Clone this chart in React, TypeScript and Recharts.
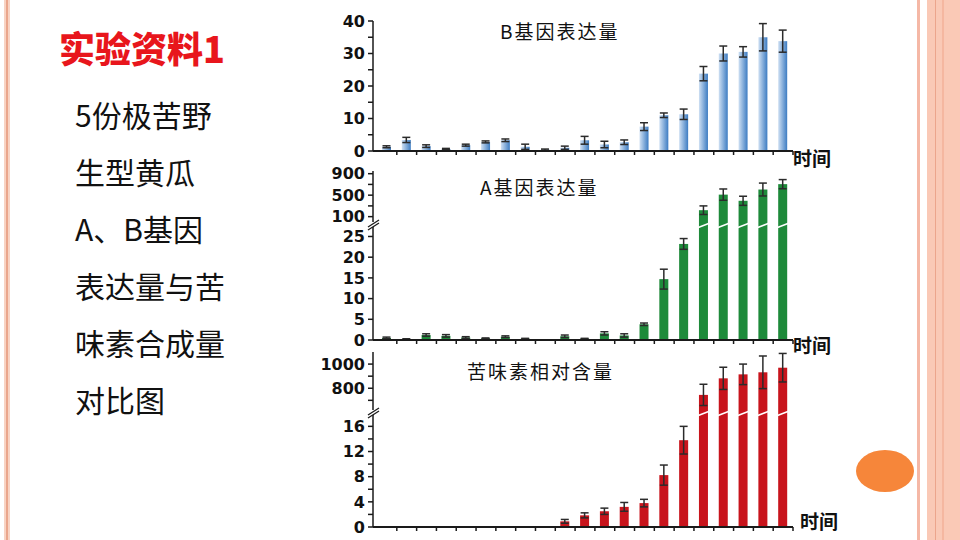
import { BarChart, Bar, XAxis, YAxis, ErrorBar } from "recharts";

// 21 sampling time points (no tick labels in the original)
const TIME_POINTS = ["1", "2", "3", "4", "5", "6", "7", "8", "9", "10", "11", "12", "13", "14", "15", "16", "17", "18", "19", "20", "21"];

// B gene expression
const B_LEVEL = [1.3, 3.4, 1.5, 0.6, 1.8, 2.8, 3.3, 1.3, 0.4, 1.0, 3.3, 2.0, 2.7, 7.5, 11, 11.3, 23.8, 30, 30.5, 35, 33.8];
const B_ERR = [0.3, 0.8, 0.4, 0.2, 0.3, 0.3, 0.4, 0.8, 0.2, 0.5, 1.2, 1.0, 0.7, 1.2, 0.7, 1.6, 2.2, 2.3, 1.6, 4.2, 3.4];

// A gene expression
const A_LEVEL = [0.5, 0.2, 1.2, 1.0, 0.6, 0.4, 0.8, 0.3, 0, 0.9, 0.3, 1.6, 1.1, 3.8, 14.7, 23.2, 220, 510, 395, 605, 705];
const A_ERR = [0.2, 0.1, 0.3, 0.3, 0.2, 0.1, 0.2, 0.1, 0, 0.3, 0.1, 0.4, 0.4, 0.3, 2.4, 1.3, 80, 105, 85, 120, 85];

// cucurbitacin relative content
const C_LEVEL = [0, 0, 0, 0, 0, 0, 0, 0, 0, 0.9, 1.85, 2.5, 3.2, 3.8, 8.25, 13.8, 745, 882, 915, 932, 970];
const C_ERR = [0, 0, 0, 0, 0, 0, 0, 0, 0, 0.3, 0.4, 0.5, 0.7, 0.6, 1.6, 2.2, 88, 92, 85, 135, 118];

const B_TICKS = [0, 5, 10, 15, 20, 25, 30, 35, 40];
const B_LABELS = [0, 10, 20, 30, 40];
const A_LOW_TICKS = [0, 5, 10, 15, 20, 25];
const A_HIGH_TICKS = [100, 300, 500, 700, 900];
const A_HIGH_LABELS = [100, 500, 900];
const C_LOW_TICKS = [0, 2, 4, 6, 8, 10, 12, 14, 16];
const C_LOW_LABELS = [0, 4, 8, 12, 16];
const C_HIGH_TICKS = [700, 800, 900, 1000];
const C_HIGH_LABELS = [800, 1000];

const rows = TIME_POINTS.map((t, i) => ({
  t,
  b: B_LEVEL[i],
  bErr: B_ERR[i],
  a: A_LEVEL[i],
  aErr: A_ERR[i],
  c: C_LEVEL[i],
  cErr: C_ERR[i],
}));

const LEFT = 313;
const CHART_W = 490;
const AXIS_W = 60;
const M_RIGHT = 10;
const X_PAD = 4;
const PLOT_W = CHART_W - AXIS_W - M_RIGHT;
const STEP = (PLOT_W - X_PAD) / TIME_POINTS.length;
const INK = "#1a1a1a";
const CJK = "'Noto Sans CJK SC', sans-serif";

function GapTick({ x, y }: any) {
  return <line x1={x + STEP / 2} x2={x + STEP / 2} y1={y} y2={y + 4} stroke={INK} strokeWidth={1.5} />;
}

type SegProps = {
  plotTop: number;
  plotH: number;
  domain: [number, number];
  ticks: number[];
  labels?: number[];
  valueKey: "a" | "b" | "c";
  errKey: "aErr" | "bErr" | "cErr";
  fill: string;
  showX?: boolean;
  mode: "full" | "low" | "high";
  cut?: number; // values above this are drawn in the upper panel
};

function Segment({ plotTop, plotH, domain, ticks, labels, valueKey, errKey, fill, showX, mode, cut = 0 }: SegProps) {
  const mTop = 10;
  const mBottom = showX ? 4 : 10;
  const height = mTop + plotH + (showX ? 6 : 0) + mBottom;
  const lim = domain[1];
  const value =
    mode === "high" ? (r: any) => (r[valueKey] > cut ? r[valueKey] : null) : (r: any) => r[valueKey];
  const err =
    mode === "high"
      ? (r: any) => (r[valueKey] > cut ? r[errKey] : null)
      : (r: any) => (r[valueKey] > 0 && r[valueKey] <= lim ? r[errKey] : null);

  // bars cut by the axis break get a white slash at the top of the lower panel
  const shape = (p: any) => {
    const { x, y, width, height: h } = p;
    if (h == null || isNaN(h) || h <= 0) return <g />;
    return (
      <g>
        <rect x={x} y={y} width={width} height={h} fill={fill} />
        {mode === "low" && y < mTop && (
          <line x1={x - 2} y1={mTop + 6} x2={x + width + 2} y2={mTop + 1} stroke="#fff" strokeWidth={1.6} />
        )}
      </g>
    );
  };

  return (
    <div style={{ position: "absolute", left: LEFT, top: plotTop - mTop }}>
      <BarChart
        width={CHART_W}
        height={height}
        data={rows}
        margin={{ top: mTop, right: M_RIGHT, left: 0, bottom: mBottom }}
        barSize={9}
        style={{ overflow: "visible" }}
      >
        <defs>
          <linearGradient id="blueBar" x1="0" y1="0" x2="1" y2="0">
            <stop offset="0%" stopColor="#cfe0f3" />
            <stop offset="100%" stopColor="#3d7cc2" />
          </linearGradient>
        </defs>
        <XAxis
          dataKey="t"
          hide={!showX}
          height={6}
          padding={{ left: X_PAD, right: 0 }}
          axisLine={{ stroke: INK, strokeWidth: 2 }}
          tickLine={false}
          tickSize={0}
          tickMargin={0}
          tick={<GapTick />}
          interval={0}
        />
        <YAxis
          width={AXIS_W}
          type="number"
          domain={domain}
          allowDataOverflow
          ticks={ticks}
          interval={0}
          tickSize={5}
          tickMargin={3}
          axisLine={{ stroke: INK, strokeWidth: 1.5 }}
          tickLine={{ stroke: INK, strokeWidth: 1.5 }}
          tickFormatter={(v: number) => (!labels || labels.includes(v) ? String(v) : "")}
          tick={{ fill: "#111", fontSize: 16, fontWeight: 700, fontFamily: "'DejaVu Sans', sans-serif" }}
        />
        <Bar dataKey={value} fill={fill} shape={shape} isAnimationActive={false}>
          <ErrorBar dataKey={err} width={4} stroke="#2b2b2b" strokeWidth={1.5} direction="y" />
        </Bar>
      </BarChart>
    </div>
  );
}

function AxisBreak({ y }: { y: number }) {
  return (
    <svg style={{ position: "absolute", left: 365, top: y - 8 }} width={18} height={16}>
      <rect x={6} y={5} width={6} height={5} fill="#fff" />
      <line x1={3} y1={10} x2={14} y2={3} stroke={INK} strokeWidth={1.3} />
      <line x1={3} y1={13} x2={14} y2={6} stroke={INK} strokeWidth={1.3} />
    </svg>
  );
}

const label = (text: string, left: number, top: number, size: number, weight: number, spacing = 0) => (
  <div
    style={{
      position: "absolute",
      left,
      top,
      fontSize: size,
      fontWeight: weight,
      fontFamily: CJK,
      lineHeight: 1,
      whiteSpace: "nowrap",
      letterSpacing: spacing,
      color: "#111",
    }}
  >
    {text}
  </div>
);

export default function App() {
  return (
    <div style={{ position: "fixed", left: 0, top: 0, width: 960, height: 540, background: "#fff", overflow: "hidden" }}>
      {/* slide frame */}
      <div style={{ position: "absolute", left: 4, top: 0, width: 6, height: 540, background: "#f8d3c3" }} />
      <div style={{ position: "absolute", left: 6, top: 0, width: 2, height: 540, background: "#eaa68c" }} />
      <div style={{ position: "absolute", left: 917, top: 0, width: 3, height: 540, background: "#f5b8a6" }} />
      <div style={{ position: "absolute", left: 927, top: 0, width: 33, height: 540, background: "#fac9b6" }} />
      <div style={{ position: "absolute", left: 935, top: 0, width: 1, height: 540, background: "#eca58c" }} />
      <div style={{ position: "absolute", left: 942, top: 0, width: 2, height: 540, background: "#f5b7a0" }} />
      <div
        style={{
          position: "absolute",
          left: 856,
          top: 450,
          width: 58,
          height: 42,
          borderRadius: "50%",
          background: "#f6863a",
        }}
      />

      {/* left text */}
      <div
        style={{
          position: "absolute",
          left: 59,
          top: 29,
          fontSize: 36,
          fontWeight: 900,
          fontFamily: CJK,
          color: "#e8161c",
          lineHeight: 1,
        }}
      >
        实验资料1
      </div>
      <div
        style={{
          position: "absolute",
          left: 75,
          top: 86,
          fontSize: 30,
          fontFamily: CJK,
          color: "#111",
          lineHeight: "57px",
        }}
      >
        <div>5份极苦野</div>
        <div>生型黄瓜</div>
        <div>A、B基因</div>
        <div>表达量与苦</div>
        <div>味素合成量</div>
        <div>对比图</div>
      </div>

      {/* B gene */}
      <Segment plotTop={21} plotH={130} domain={[0, 40]} ticks={B_TICKS} labels={B_LABELS} valueKey="b" errKey="bErr" fill="url(#blueBar)" showX mode="full" />
      {label("B基因表达量", 500, 21, 19, 400, 2)}
      {label("时间", 793, 148, 19, 700)}

      {/* A gene, broken axis */}
      <Segment plotTop={171} plotH={51} domain={[0, 950]} ticks={A_HIGH_TICKS} labels={A_HIGH_LABELS} valueKey="a" errKey="aErr" fill="#1e8a3a" mode="high" cut={28.5} />
      <Segment plotTop={222} plotH={118} domain={[0, 28.5]} ticks={A_LOW_TICKS} valueKey="a" errKey="aErr" fill="#1e8a3a" showX mode="low" />
      <AxisBreak y={225} />
      {label("A基因表达量", 480, 177, 19, 400, 2)}
      {label("时间", 793, 335, 19, 700)}

      {/* cucurbitacin, broken axis */}
      <Segment plotTop={352} plotH={58} domain={[620, 1100]} ticks={C_HIGH_TICKS} labels={C_HIGH_LABELS} valueKey="c" errKey="cErr" fill="#c8141c" mode="high" cut={620} />
      <Segment plotTop={410} plotH={117} domain={[0, 18.6]} ticks={C_LOW_TICKS} labels={C_LOW_LABELS} valueKey="c" errKey="cErr" fill="#c8141c" showX mode="low" />
      <AxisBreak y={413} />
      {label("苦味素相对含量", 467, 361, 19, 400, 2)}
      {label("时间", 800, 511, 19, 700)}
    </div>
  );
}
